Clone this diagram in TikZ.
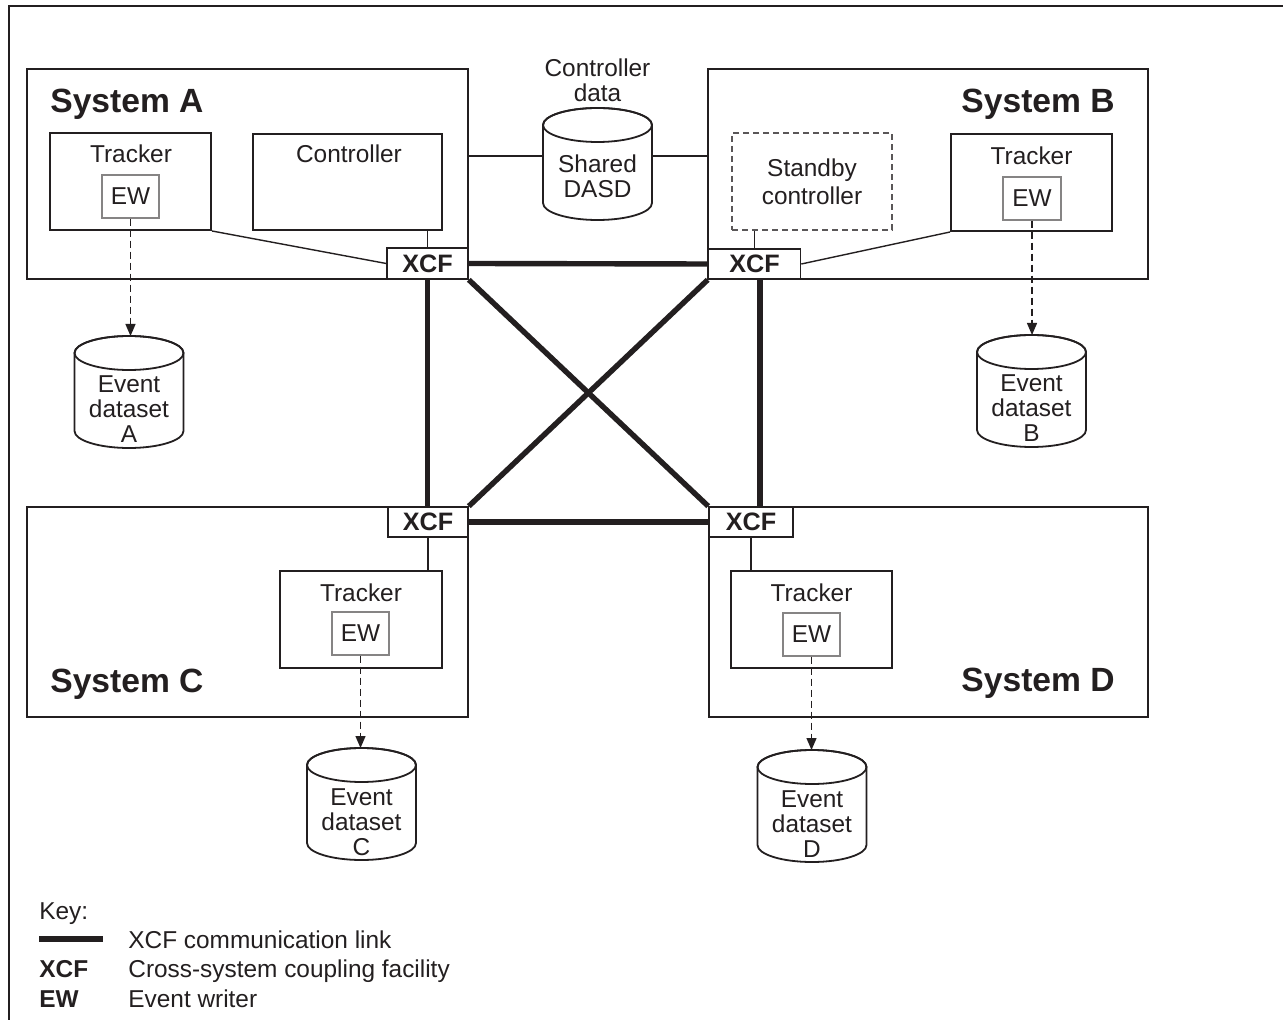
\documentclass[tikz,border=0pt]{standalone}
\usepackage{fontspec}
\setmainfont{Liberation Sans}
\usetikzlibrary{arrows.meta}
\definecolor{ink}{HTML}{231F20}
\newcommand\dbcyl[5]{%
  \draw[cylline, fill=white] ({#2-54.5},{-#3-17}) -- ({#2-54.5},{-#3-95})
     arc[start angle=180,end angle=360,x radius=27.25pt,y radius=8.5pt]
     -- ({#2+54.5},{-#3-17})
     arc[start angle=0,end angle=180,x radius=27.25pt,y radius=8.5pt] -- cycle;
  \draw[cylline] ({#2},{-#3-17}) ellipse[x radius=27.25pt,y radius=8.5pt];
  \coordinate (#1-top) at ({#2},{-#3});
  \coordinate (#1-w) at ({#2-54.5},{-#3-48});
  \coordinate (#1-e) at ({#2+54.5},{-#3-48});
  \node[align=center] (#1) at ({#2},{-#5}) {#4};
}
\begin{document}
\begin{tikzpicture}[x=0.5pt,y=0.5pt,
  every node/.style={font=\fontsize{12.2pt}{12.6pt}\selectfont, text=ink, inner sep=0pt},
  wh/.style 2 args={minimum width=#1*0.5pt, minimum height=#2*0.5pt},
  sysbox/.style={draw=ink, line width=1.1pt},
  inbox/.style={draw=ink, line width=1pt, fill=white},
  ewbox/.style={draw=ink!55, line width=0.65pt, fill=white},
  dashbox/.style={draw=ink!75, line width=0.65pt, dash pattern=on 3pt off 2pt, fill=white},
  xcfbox/.style={draw=ink, line width=0.8pt, fill=white, font=\fontsize{12.6pt}{13pt}\selectfont\bfseries},
  thinline/.style={draw=ink, line width=0.7pt},
  link/.style={draw=ink, line width=2.7pt},
  dasharrow/.style={draw=ink, line width=0.65pt, dash pattern=on 3.5pt off 2pt, -{Triangle[length=6pt,width=5pt]}},
  cylline/.style={draw=ink, line width=0.9pt},
  title/.style={font=\fontsize{16.8pt}{18pt}\selectfont\bfseries},
  boldkey/.style={font=\fontsize{12.2pt}{13pt}\selectfont\bfseries},
  keytext/.style={font=\fontsize{12.2pt}{13pt}\selectfont},
]
\useasboundingbox (0,0) rectangle (1283,-1020);
\fill[white] (0,0) rectangle (1283,-1020);
% outer frame
\draw[ink, line width=0.8pt] (1283,-6) -- (9,-6) -- (9,-1020);

% system boxes
\node[sysbox, wh={441}{210}] (sysA) at (247.5,-174) {};
\node[sysbox, wh={440}{210}] (sysB) at (928,-174) {};
\node[sysbox, wh={441}{210}] (sysC) at (247.5,-612) {};
\node[sysbox, wh={439}{210}] (sysD) at (928.5,-612) {};

\node[title, anchor=base west] (tA) at (50,-113) {System A};
\node[title, anchor=base east] (tB) at (1115,-113) {System B};
\node[title, anchor=base west] (tC) at (50,-692) {System C};
\node[title, anchor=base east] (tD) at (1115,-691) {System D};

% inner boxes
\node[inbox, wh={161}{97}] (trA) at (130.5,-181.5) {};
\node[anchor=base] (trAl) at (131,-163) {Tracker};
\node[ewbox, wh={57}{43}] (ewA) at (130.5,-196.5) {EW};

\node[inbox, wh={189}{96}] (ctrl) at (347.5,-182) {};
\node[anchor=base] (ctrll) at (349,-163) {Controller};

\node[dashbox, wh={160}{97}, align=center] (stby) at (812,-181.5) {Standby\\[1.5pt]controller};

\node[inbox, wh={161}{97}] (trB) at (1031.5,-182.5) {};
\node[anchor=base] (trBl) at (1031.5,-165) {Tracker};
\node[ewbox, wh={58}{43}] (ewB) at (1032,-198.5) {EW};

\node[inbox, wh={162}{97}] (trC) at (361,-619.5) {};
\node[anchor=base] (trCl) at (361,-601) {Tracker};
\node[ewbox, wh={57}{43}] (ewC) at (360.5,-633.5) {EW};

\node[inbox, wh={161}{97}] (trD) at (811.5,-619.5) {};
\node[anchor=base] (trDl) at (811.5,-601) {Tracker};
\node[ewbox, wh={57}{43}] (ewD) at (811.5,-634.5) {EW};

% XCF boxes
\node[xcfbox, wh={81}{31}] (xcfA) at (427.5,-263.5) {XCF};
\node[xcfbox, wh={92}{30}] (xcfB) at (754.5,-264) {XCF};
\node[xcfbox, wh={80}{30}] (xcfC) at (428,-522) {XCF};
\node[xcfbox, wh={84}{30}] (xcfD) at (751,-522) {XCF};

% XCF links (thick)
\draw[link] (xcfA.east) -- (xcfB.west);
\draw[link] (xcfC.east) -- (xcfD.west);
\draw[link] (xcfA.south) -- (xcfA.south |- xcfC.north);
\draw[link] ([xshift=2.75pt]xcfB.south) -- ([xshift=2.75pt]xcfB.south |- xcfD.north);
\draw[link] (xcfA.south east) -- (xcfD.north west);
\draw[link] (xcfB.south west) -- (xcfC.north east);

% thin connectors
\draw[thinline] (xcfA.north) -- (xcfA.north |- ctrl.south);
\draw[thinline] (trA.south east) -- (xcfA.west);
\draw[thinline] (xcfB.north) -- (xcfB.north |- stby.south);
\draw[thinline] (xcfB.east) -- (trB.south west);
\draw[thinline] (xcfC.south) -- (xcfC.south |- trC.north);
\draw[thinline] (xcfD.south) -- (xcfD.south |- trD.north);

% cylinders
\dbcyl{dasd}{597.5}{108}{Shared\\DASD}{176}
\node[align=center] (cdata) at (597.5,-80) {Controller\\data};
\draw[thinline] (sysA.east |- dasd-w) -- (dasd-w);
\draw[thinline] (dasd-e) -- (sysB.west |- dasd-e);

\dbcyl{cylA}{129}{336}{Event\\dataset\\A}{409}
\dbcyl{cylB}{1031.5}{335}{Event\\dataset\\B}{408}
\dbcyl{cylC}{361.5}{748}{Event\\dataset\\C}{822}
\dbcyl{cylD}{812}{750}{Event\\dataset\\D}{824}

\draw[dasharrow] (ewA.south) -- (ewA.south |- cylA-top);
\draw[dasharrow] (ewB.south) -- (ewB.south |- cylB-top);
\draw[dasharrow] (ewC.south) -- (ewC.south |- cylC-top);
\draw[dasharrow] (ewD.south) -- (ewD.south |- cylD-top);

% key
\node[keytext, anchor=base west] (key) at (39,-919) {Key:};
\coordinate (k1) at (39,-939);
\coordinate (k2) at (103,-939);
\draw[link] (k1) -- (k2);
\node[keytext, anchor=base west] (k1t) at (128,-948) {XCF communication link};
\node[boldkey, anchor=base west] (k2s) at (39,-977) {XCF};
\node[keytext, anchor=base west] (k2t) at (128,-977) {Cross-system coupling facility};
\node[boldkey, anchor=base west] (k3s) at (39,-1007) {EW};
\node[keytext, anchor=base west] (k3t) at (128,-1007) {Event writer};
\end{tikzpicture}
\end{document}
